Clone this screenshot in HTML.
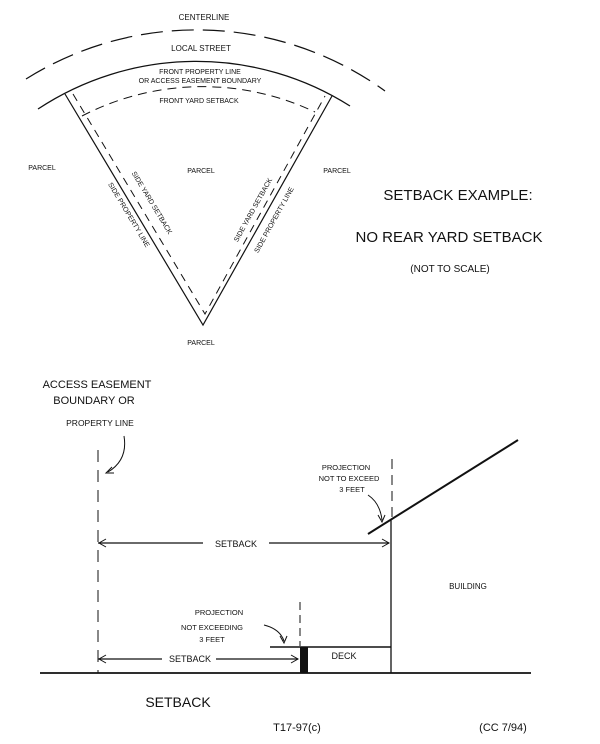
<!DOCTYPE html>
<html><head><style>
html,body{margin:0;padding:0;background:#fff;}
svg{display:block;}
text{font-family:"Liberation Sans",sans-serif;fill:#111;}
</style></head><body>
<svg width="600" height="744" viewBox="0 0 600 744">
<g fill="none" stroke="#111">
<path d="M26,79 A321,321 0 0 1 385,91" stroke-width="1.2" stroke-dasharray="22,9"/>
<path d="M38,109 A287,287 0 0 1 350,106" stroke-width="1.3"/>
<path d="M82,116 A262,262 0 0 1 315,112" stroke-width="1" stroke-dasharray="9,6"/>
<path d="M65,94 L203,325 L332,96" stroke-width="1.2"/>
<path d="M73,94 L205,314 L325,96" stroke-width="1" stroke-dasharray="8,6"/>
<!-- bottom diagram -->
<line x1="40" y1="673" x2="531" y2="673" stroke-width="1.8"/>
<line x1="98" y1="450" x2="98" y2="673" stroke-width="1" stroke-dasharray="12,8"/>
<line x1="392" y1="459" x2="392" y2="520" stroke-width="1" stroke-dasharray="10,6"/>
<line x1="391" y1="520" x2="391" y2="673" stroke-width="1.3"/>
<line x1="368" y1="534" x2="518" y2="440" stroke-width="2"/>
<line x1="98" y1="543" x2="203" y2="543" stroke-width="1.2"/>
<line x1="269" y1="543" x2="389" y2="543" stroke-width="1.2"/>
<path d="M106,539 L99,543 L106,547 M382,539 L389,543 L382,547" stroke-width="1"/>
<line x1="270" y1="647" x2="391" y2="647" stroke-width="1.5"/>
<line x1="300" y1="602" x2="300" y2="646" stroke-width="1" stroke-dasharray="8,5"/>
<line x1="98" y1="659" x2="162" y2="659" stroke-width="1.2"/>
<line x1="216" y1="659" x2="298" y2="659" stroke-width="1.2"/>
<path d="M106,655 L99,659 L106,663 M291,655 L298,659 L291,663" stroke-width="1"/>
<path d="M124,436 Q128,460 108,472" stroke-width="1"/>
<path d="M112,467 L106,473 L114,473" stroke-width="1"/>
<path d="M368,495 Q380,503 382,520" stroke-width="1"/>
<path d="M378,515 L382,522 L385,515" stroke-width="1"/>
<path d="M264,625 Q280,629 284,641" stroke-width="1"/>
<path d="M280,636 L284,643 L287,636" stroke-width="1"/>
</g>
<rect x="300" y="647" width="8" height="26" fill="#111"/>
<g font-size="8" text-anchor="middle">
<text x="204" y="20">CENTERLINE</text>
<text x="201" y="51">LOCAL STREET</text>
<text x="200" y="74" font-size="7">FRONT PROPERTY LINE</text>
<text x="200" y="83" font-size="7">OR ACCESS EASEMENT BOUNDARY</text>
<text x="199" y="103" font-size="7">FRONT YARD SETBACK</text>
<text x="42" y="170" font-size="7">PARCEL</text>
<text x="201" y="173" font-size="7">PARCEL</text>
<text x="337" y="173" font-size="7">PARCEL</text>
<text x="201" y="345" font-size="7">PARCEL</text>
<text transform="translate(150,204) rotate(59)" font-size="7">SIDE YARD SETBACK</text>
<text transform="translate(127,216) rotate(59)" font-size="7">SIDE PROPERTY LINE</text>
<text transform="translate(255,211) rotate(-61)" font-size="7">SIDE YARD SETBACK</text>
<text transform="translate(276,221) rotate(-61)" font-size="7">SIDE PROPERTY LINE</text>
</g>
<g text-anchor="middle">
<text x="458" y="200" font-size="15">SETBACK EXAMPLE:</text>
<text x="449" y="242" font-size="15">NO REAR YARD SETBACK</text>
<text x="450" y="272" font-size="10">(NOT TO SCALE)</text>
</g>
<g font-size="11" text-anchor="middle">
<text x="97" y="388">ACCESS EASEMENT</text>
<text x="94" y="404">BOUNDARY OR</text>
<text x="100" y="426" font-size="8.5">PROPERTY LINE</text>
</g>
<g font-size="7.5" text-anchor="middle">
<text x="346" y="470">PROJECTION</text>
<text x="349" y="481">NOT TO EXCEED</text>
<text x="352" y="492">3 FEET</text>
<text x="219" y="615">PROJECTION</text>
<text x="212" y="630">NOT  EXCEEDING</text>
<text x="212" y="642">3 FEET</text>
<text x="236" y="547" font-size="9">SETBACK</text>
<text x="190" y="662" font-size="9">SETBACK</text>
<text x="344" y="659" font-size="9">DECK</text>
<text x="468" y="589" font-size="8">BUILDING</text>
</g>
<text x="178" y="707" font-size="14" text-anchor="middle">SETBACK</text>
<text x="297" y="731" font-family="Liberation Mono" font-size="11" text-anchor="middle">T17-97(c)</text>
<text x="503" y="731" font-family="Liberation Mono" font-size="11" text-anchor="middle">(CC 7/94)</text>
</svg>
</body></html>
